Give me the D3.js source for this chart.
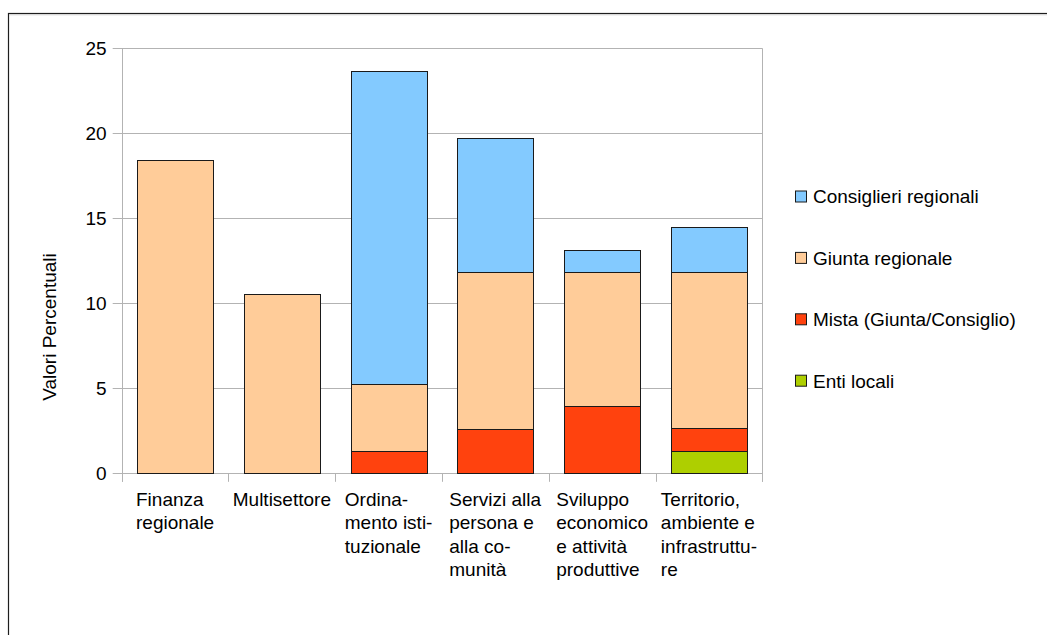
<!DOCTYPE html>
<html>
<head>
<meta charset="utf-8">
<script src="https://cdn.jsdelivr.net/npm/d3@7"></script>
<style>
  html, body { margin: 0; padding: 0; background: #fff; }
  svg { display: block; }
  text { font-family: "Liberation Sans", Arial, sans-serif; fill: #000; }
</style>
</head>
<body>
<svg id="chart" width="1047" height="635"></svg>
<script>
// Quota di leggi per settore e soggetto proponente (valori percentuali)
const categories = [
  "Finanza regionale",
  "Multisettore",
  "Ordinamento istituzionale",
  "Servizi alla persona e alla comunità",
  "Sviluppo economico e attività produttive",
  "Territorio, ambiente e infrastrutture"
];
const categoryLines = [
  ["Finanza", "regionale"],
  ["Multisettore"],
  ["Ordina-", "mento isti-", "tuzionale"],
  ["Servizi alla", "persona e", "alla co-", "munità"],
  ["Sviluppo", "economico", "e attività", "produttive"],
  ["Territorio,", "ambiente e", "infrastruttu-", "re"]
];
const seriesNames = ["Enti locali", "Mista (Giunta/Consiglio)", "Giunta regionale", "Consiglieri regionali"];
const entiLocali  = [0, 0, 0, 0, 0, 1.32];
const mista       = [0, 0, 1.32, 2.63, 3.95, 1.32];
const giunta      = [18.42, 10.53, 3.95, 9.21, 7.89, 9.21];
const consiglieri = [0, 0, 18.42, 7.89, 1.32, 2.63];
const yTicks = [0, 5, 10, 15, 20, 25];
const colors = ["#aecf00", "#ff420e", "#ffcc99", "#83caff"];
const yTitle = "Valori Percentuali";

const svg = d3.select("#chart");
const FS = 19;
const plot = { left: 121.7, right: 762.3, top: 48.3, bottom: 473.3 };

// outer frame
svg.append("rect")
  .attr("x", 8.5).attr("y", 13.5).attr("width", 1100).attr("height", 700)
  .attr("fill", "none").attr("stroke", "#1e1e1e").attr("stroke-width", 1.2);
svg.append("line")
  .attr("x1", 9).attr("x2", 1047).attr("y1", 14.8).attr("y2", 14.8)
  .attr("stroke", "#d0d0d0").attr("stroke-width", 1);

const x = d3.scaleBand().domain(categories).range([plot.left, plot.right]).padding(0);
const y = d3.scaleLinear().domain([0, 25]).range([plot.bottom, plot.top]);
const barFrac = 0.714;

const rows = categories.map((c, i) => ({
  cat: c,
  "Enti locali": entiLocali[i],
  "Mista (Giunta/Consiglio)": mista[i],
  "Giunta regionale": giunta[i],
  "Consiglieri regionali": consiglieri[i]
}));
const stacked = d3.stack().keys(seriesNames)(rows);

const gridColor = "#b3b3b3";

// horizontal grid lines with left tick marks
svg.append("g").selectAll("line").data(yTicks).join("line")
  .attr("x1", plot.left - 9).attr("x2", plot.right)
  .attr("y1", d => Math.round(y(d)) + 0.5).attr("y2", d => Math.round(y(d)) + 0.5)
  .attr("stroke", gridColor).attr("stroke-width", 1);

// y tick labels
svg.append("g").selectAll("text").data(yTicks).join("text")
  .attr("x", plot.left - 15).attr("y", d => y(d))
  .attr("dy", "0.36em").attr("text-anchor", "end")
  .style("font-size", FS + "px")
  .text(d => d);

// vertical axis line and right border
[plot.left, plot.right].forEach(px => {
  svg.append("line")
    .attr("x1", Math.round(px) + 0.5).attr("x2", Math.round(px) + 0.5)
    .attr("y1", plot.top).attr("y2", plot.bottom + 8.5)
    .attr("stroke", gridColor).attr("stroke-width", 1);
});

// category separator ticks
const bounds = categories.map(c => x(c)).concat([plot.right]);
svg.append("g").selectAll("line").data(bounds).join("line")
  .attr("x1", d => Math.round(d) + 0.5).attr("x2", d => Math.round(d) + 0.5)
  .attr("y1", plot.bottom).attr("y2", plot.bottom + 8.5)
  .attr("stroke", gridColor).attr("stroke-width", 1);

// stacked bars
const bw = x.bandwidth() * barFrac;
const off = (x.bandwidth() - bw) / 2;
svg.append("g").selectAll("g").data(stacked).join("g")
  .attr("fill", (d, i) => colors[i])
  .selectAll("rect")
  .data(d => d.filter(s => s[1] - s[0] > 0))
  .join("rect")
  .attr("x", d => Math.round(x(d.data.cat) + off) + 0.5)
  .attr("width", Math.round(bw))
  .attr("y", d => Math.round(y(d[1])) + 0.5)
  .attr("height", d => Math.round(y(d[0])) - Math.round(y(d[1])))
  .attr("stroke", "#1a1a1a").attr("stroke-width", 1);

// category labels: left-aligned lines, block centred on the band
const lineH = 23.3;
const labelG = svg.append("g");
categories.forEach((c, i) => {
  const t = labelG.append("text").style("font-size", FS + "px");
  categoryLines[i].forEach((ln, k) => {
    t.append("tspan").attr("x", 0).attr("y", 506 + k * lineH).text(ln);
  });
  const w = t.node().getBBox().width;
  const cx = x(c) + x.bandwidth() / 2;
  t.attr("transform", `translate(${cx - w / 2},0)`);
});

// y axis title
svg.append("text")
  .attr("transform", "translate(56,327) rotate(-90)")
  .attr("text-anchor", "middle")
  .style("font-size", FS + "px")
  .text(yTitle);

// legend (top to bottom: reversed stacking order)
const legendItems = seriesNames.map((n, i) => ({ name: n, color: colors[i] })).reverse();
const lg = svg.append("g").selectAll("g").data(legendItems).join("g")
  .attr("transform", (d, i) => `translate(795,${196.5 + i * 61.4})`);
lg.append("rect")
  .attr("x", 0.5).attr("y", -5.5).attr("width", 11).attr("height", 11)
  .attr("fill", d => d.color).attr("stroke", "#1a1a1a").attr("stroke-width", 1);
lg.append("text")
  .attr("x", 18).attr("y", 0).attr("dy", "0.36em")
  .style("font-size", FS + "px")
  .text(d => d.name);
</script>
</body>
</html>
